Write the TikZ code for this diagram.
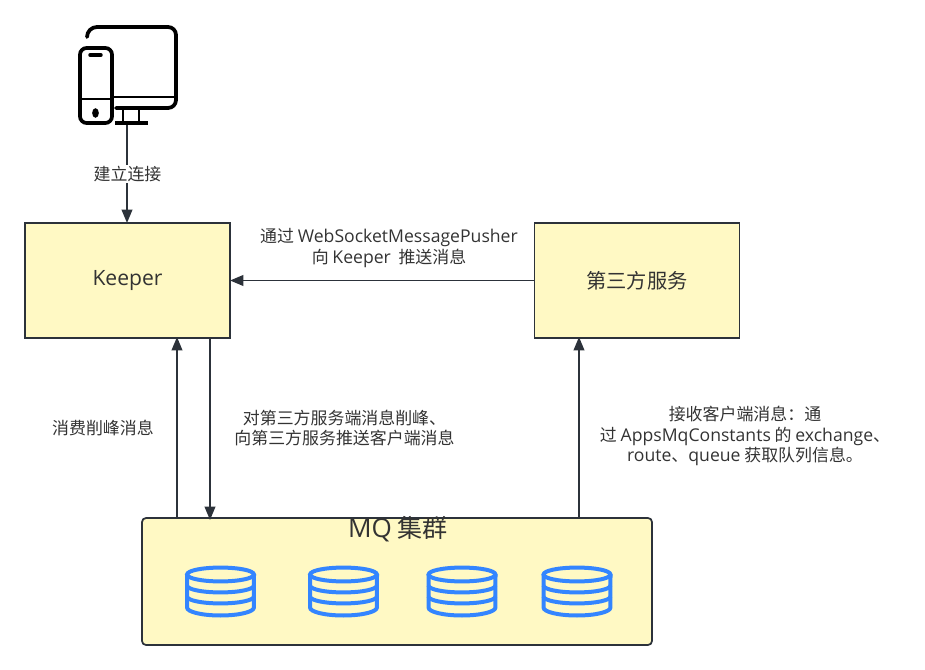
\documentclass[tikz,border=0pt]{standalone}
\usepackage{fontspec}
\setmainfont{Noto Sans CJK SC}
\newfontfamily\latinfont[Scale=1.04]{Open Sans}
\newcommand{\en}[1]{{\latinfont #1}}
\usetikzlibrary{arrows.meta, positioning}

\definecolor{boxfill}{RGB}{255,249,196}
\definecolor{boxline}{RGB}{44,50,58}
\definecolor{txtgray}{RGB}{51,51,51}
\definecolor{dbblue}{RGB}{51,133,255}

\tikzset{
    yellowbox/.style={draw=boxline, fill=boxfill, line width=1.3pt, outer sep=0pt, text=txtgray, inner sep=0pt, font=\fontsize{15.2}{18}\selectfont},
    msglabel/.style={text=txtgray, align=center, inner sep=0pt, font=\fontsize{12.7}{15.6}\selectfont},
    flow/.style={-{Triangle[length=10pt, width=8pt]}, draw=boxline, line width=1.3pt},
    dbicon/.pic={
        \draw[dbblue, line width=3pt] (0,0) ellipse [x radius=25.1pt, y radius=5.2pt];
        \draw[dbblue, line width=3pt] (-33.5,0) -- (-33.5,33) arc [start angle=180, end angle=360, x radius=25.1pt, y radius=6pt] -- (33.5,0);
        \draw[dbblue, line width=3pt] (-33.5,11) arc [start angle=180, end angle=360, x radius=25.1pt, y radius=5.2pt];
        \draw[dbblue, line width=3pt] (-33.5,22) arc [start angle=180, end angle=360, x radius=25.1pt, y radius=5.2pt];
    }
}

\begin{document}
\begin{tikzpicture}[x=0.75pt, y=-0.75pt]
    \useasboundingbox (0,0) rectangle (925,670);

    % device icon
    \draw[black, line width=2.8pt, line cap=round] (87,37) arc [start angle=180, end angle=90, radius=7.5pt] -- (168,27) arc [start angle=90, end angle=0, radius=6pt] -- (176,100) arc [start angle=0, end angle=-90, radius=6pt] -- (116,108);
    \draw[black, line width=2.2pt] (114,97) -- (176,97);
    \draw[black, line width=2.2pt] (123,108) -- (123,122);
    \draw[black, line width=2.2pt] (139,108) -- (139,122);
    \draw[black, line width=2.8pt] (115,123) -- (148,123);
    \draw[black, line width=2.8pt, rounded corners=5pt] (80,48) rectangle (112,123);
    \draw[black, line width=2.2pt] (80,99) -- (112,99);
    \draw[black, line width=2.6pt, line cap=round] (90,55) -- (101,55);
    \fill[black] (95.5,113) ellipse [x radius=2.5pt, y radius=3.6pt];
    \coordinate (device) at (127,125);

    % boxes
    \node[yellowbox, minimum width=153.75pt, minimum height=86.25pt] (keeper) at (127.5,280.5) {\en{Keeper}};
    \node[yellowbox, minimum width=153.75pt, minimum height=86.25pt] (third) at (637,280.5) {第三方服务};
    \node[yellowbox, rounded corners=3pt, minimum width=382.5pt, minimum height=95.25pt] (mq) at (397,581.5) {};
    \node[text=txtgray, inner sep=0pt, font=\fontsize{18.8}{22}\selectfont] (mqtitle) at (398,529) {\en{MQ} 集群};

    \pic at (220.5,574.5) {dbicon};
    \pic at (343.5,574.5) {dbicon};
    \pic at (462,574.5) {dbicon};
    \pic at (577,574.5) {dbicon};

    % ends of the vertical arrows
    \coordinate (keeperin) at (177,337);
    \coordinate (keeperout) at (210,338);
    \coordinate (thirdin) at (579,337);
    \coordinate (mqout) at (177,518);
    \coordinate (mqin) at (210,520);
    \coordinate (mqright) at (579,518);
    \coordinate (keepertop) at (127,223);

    \draw[flow] (device) -- (keepertop);
    \draw[flow] (third.west) -- (keeper.east);
    \draw[flow] (mqout) -- (keeperin);
    \draw[flow] (keeperout) -- (mqin);
    \draw[flow] (mqright) -- (thirdin);

    % labels
    \node[msglabel, fill=white, inner ysep=1pt] (connlabel) at (127.5,174) {建立连接};
    \node[msglabel] (pushlabel) at (389,248) {通过 \en{WebSocketMessagePusher}\\向 \en{Keeper}\ \ 推送消息};
    \node[msglabel] (consumelabel) at (103,428) {消费削峰消息};
    \node[msglabel] (peaklabel) at (344.5,428) {对第三方服务端消息削峰、\\向第三方服务推送客户端消息};
    \node[msglabel] (recvlabel) at (745,436) {接收客户端消息：通\\过 \en{AppsMqConstants} 的 \en{exchange}、\\\en{route}、\en{queue} 获取队列信息。};
\end{tikzpicture}
\end{document}
